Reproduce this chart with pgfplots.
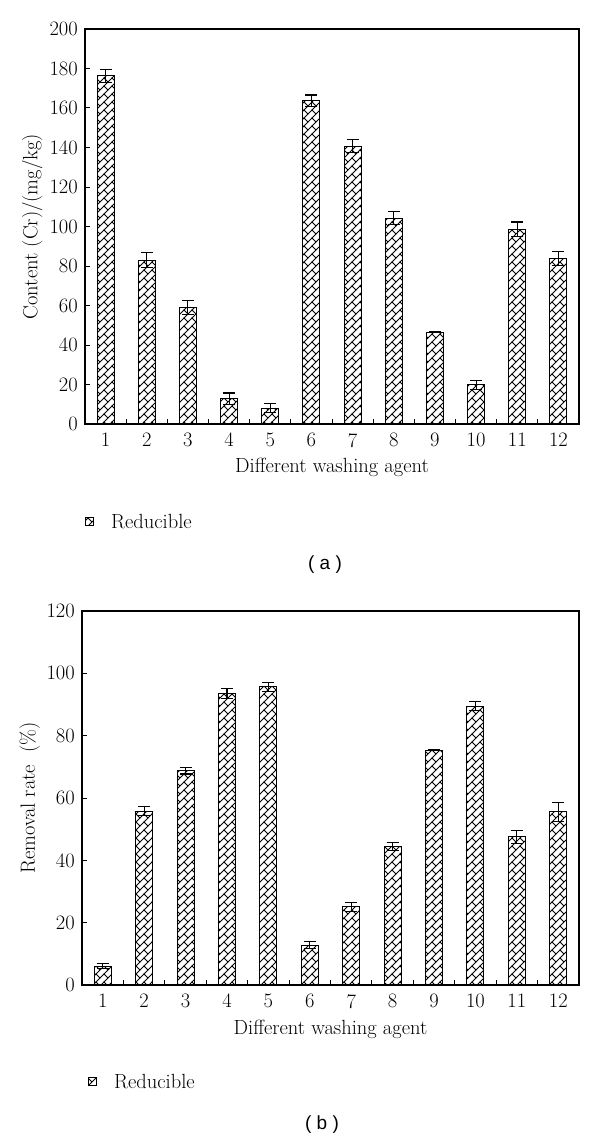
\documentclass[border=0pt]{standalone}
\usepackage{fontspec}
\newfontfamily\capfont{Liberation Sans}
\usepackage{pgfplots}
\usepackage{pgfplotstable}
\pgfplotsset{compat=1.18}
\usetikzlibrary{patterns}

% diagonal brick pattern
\pgfdeclarepatternformonly{diagbrick}{\pgfqpoint{-1pt}{-1pt}}{\pgfqpoint{9pt}{9pt}}{\pgfqpoint{8pt}{8pt}}{%
  \pgfsetlinewidth{0.75pt}%
  \pgfpathmoveto{\pgfqpoint{-0.5pt}{-0.5pt}}\pgfpathlineto{\pgfqpoint{8.5pt}{8.5pt}}%
  \pgfpathmoveto{\pgfqpoint{4pt}{4pt}}\pgfpathlineto{\pgfqpoint{0pt}{8pt}}%
  \pgfusepath{stroke}}

\pgfplotstableread{
x y e
1 176.3 3.4
2 83.0 3.7
3 59.0 3.7
4 12.7 3.0
5 8.1 2.4
6 163.7 2.9
7 140.7 3.4
8 104.3 3.4
9 46.5 0.3
10 19.8 2.3
11 98.6 3.7
12 83.7 3.5
}\dataA

\pgfplotstableread{
x y e
1 6.1 0.7
2 55.8 1.5
3 68.8 1.1
4 93.5 1.6
5 95.7 1.5
6 12.8 1.1
7 25.1 1.5
8 44.4 1.3
9 75.3 0.2
10 89.5 1.4
11 47.5 2.0
12 55.6 3.0
}\dataB

\pgfplotsset{
  mystyle/.style={
    scale only axis, anchor=north west,
    font=\fontsize{20.5}{24}\selectfont,
    /pgf/number format/assume math mode=true,
    ybar, bar width=17pt,
    xmin=0.5, xmax=12.5, ymin=0,
    xtick={1,...,12}, minor xtick={1.5,2.5,...,11.5},
    tick align=inside, xtick pos=bottom, ytick pos=left,
    major tick length=5pt, minor tick length=5pt,
    tick style={black, line width=1pt},
    major x tick style={draw=none},
    axis line style={line width=1.2pt},
    yticklabel style={inner sep=0pt, xshift=-7pt},
    xticklabel style={inner sep=0pt, yshift=-9pt},
    xlabel={Different washing agent},
    legend cell align=left,
    legend image code/.code={\draw[#1, line width=1pt] (0pt,-4pt) rectangle (8pt,4pt);},
  },
  mybar/.style={draw=black, line width=1pt, pattern=diagbrick,
    error bars/.cd, y dir=both, y explicit,
    error bar style={line width=1.1pt, black},
    error mark options={rotate=90, mark size=6pt, line width=1.1pt, black}},
}

\begin{document}
\begin{tikzpicture}
\begin{axis}[mystyle,
  at={(85pt,-29pt)}, width=494pt, height=395pt,
  ymax=200, ytick={0,20,...,200},
  ylabel={Content (Cr)/(mg/kg)},
  ylabel style={at={(axis description cs:-0.107,0.5)}, anchor=center},
  xlabel style={at={(axis description cs:0.5,-0.111)}, anchor=center},
  legend style={draw=none, fill=none, at={(axis description cs:0,-0.248)}, anchor=west, inner sep=0pt,
    /tikz/every odd column/.append style={column sep=15pt}},
]
\addplot[mybar] table[x=x, y=y, y error=e] {\dataA};
\addlegendentry{Reducible}
\end{axis}

\begin{axis}[mystyle,
  at={(82pt,-611pt)}, width=497pt, height=374pt,
  ymax=120, ytick={0,20,...,120},
  ylabel={Removal rate\ \ (\%)},
  ylabel style={at={(axis description cs:-0.105,0.5)}, anchor=center},
  xlabel style={at={(axis description cs:0.5,-0.120)}, anchor=center},
  legend style={draw=none, fill=none, at={(axis description cs:0.012,-0.259)}, anchor=west, inner sep=0pt,
    /tikz/every odd column/.append style={column sep=15pt}},
]
\addplot[mybar] table[x=x, y=y, y error=e] {\dataB};
\addlegendentry{Reducible}
\end{axis}

\node[font=\capfont\fontsize{19}{22}\selectfont] at (325pt,-565pt) {( a )};
\node[font=\capfont\fontsize{19}{22}\selectfont] at (322pt,-1125pt) {( b )};

\pgfresetboundingbox
\path[use as bounding box] (0pt,0pt) rectangle (600pt,-1142pt);
\end{tikzpicture}
\end{document}
